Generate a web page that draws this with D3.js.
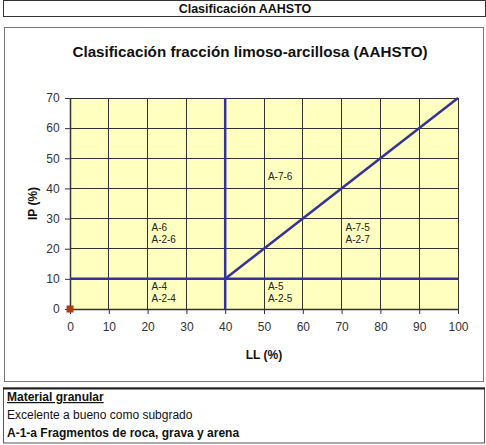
<!DOCTYPE html>
<html><head><meta charset="utf-8">
<script src="https://cdn.jsdelivr.net/npm/d3@7"></script>
<style>
html,body{margin:0;padding:0;background:#fff;}
svg{display:block;font-family:"Liberation Sans",Arial,sans-serif;}
</style></head>
<body>
<svg id="c" width="486" height="445"></svg>
<script>
const headerText = "Clasificación AAHSTO";
const chartTitle = "Clasificación fracción limoso-arcillosa (AAHSTO)";
const xLabel = "LL (%)";
const yLabel = "IP (%)";
const xTicks = [0,10,20,30,40,50,60,70,80,90,100];
const yTicks = [0,10,20,30,40,50,60,70];
// boundary lines (LL, IP)
const lineVertical = [[40,0],[40,70]];
const lineHorizontal = [[0,10],[100,10]];
const lineDiagonal = [[40,10],[100,70]];
const samplePoints = [[0,0]];
const zoneLabels = [
  {x:51, y:44.1, lines:["A-7-6"]},
  {x:21, y:26.9, lines:["A-6","A-2-6"]},
  {x:71, y:26.9, lines:["A-7-5","A-2-7"]},
  {x:21, y:7.3, lines:["A-4","A-2-4"]},
  {x:51, y:7.3, lines:["A-5","A-2-5"]}
];
const footerLines = [
  {text:"Material granular", bold:true, underline:true},
  {text:"Excelente a bueno como subgrado", bold:false, underline:false},
  {text:"A-1-a Fragmentos de roca, grava y arena", bold:true, underline:false}
];

const svg = d3.select("#c");
// header box
svg.append("rect").attr("x",3.5).attr("y",0.5).attr("width",482).attr("height",16)
  .attr("fill","#fff").attr("stroke","#333").attr("stroke-width",1);
svg.append("text").attr("x",245).attr("y",12.5).attr("text-anchor","middle")
  .attr("font-size",12.5).attr("font-weight","bold").attr("fill","#111").text(headerText);

// chart box
svg.append("rect").attr("x",4.5).attr("y",27.5).attr("width",479).attr("height",354)
  .attr("fill","#fff").attr("stroke","#777").attr("stroke-width",1);

svg.append("text").attr("x",250).attr("y",57).attr("text-anchor","middle")
  .attr("font-size",15.2).attr("font-weight","bold").attr("fill","#111").text(chartTitle);

const x = d3.scaleLinear().domain([0,100]).range([70,458]);
const y = d3.scaleLinear().domain([0,70]).range([309,98]);

svg.append("rect").attr("x",x(0)).attr("y",y(70)).attr("width",x(100)-x(0)).attr("height",y(0)-y(70))
  .attr("fill","#ffffc0");

// gridlines
const g = svg.append("g");
g.selectAll(".vg").data(xTicks.filter(d=>d>0)).join("line")
  .attr("x1",d=>x(d)).attr("x2",d=>x(d)).attr("y1",y(0)).attr("y2",y(70))
  .attr("stroke","#333").attr("stroke-width",1).attr("shape-rendering","crispEdges");
g.selectAll(".hg").data(yTicks.filter(d=>d>0)).join("line")
  .attr("x1",x(0)).attr("x2",x(100)).attr("y1",d=>y(d)).attr("y2",d=>y(d))
  .attr("stroke","#333").attr("stroke-width",1).attr("shape-rendering","crispEdges");

// axes
const xa = svg.append("g").attr("transform",`translate(0,${y(0)})`)
  .call(d3.axisBottom(x).tickValues(xTicks).tickSize(5).tickSizeOuter(0));
const ya = svg.append("g").attr("transform",`translate(${x(0)},0)`)
  .call(d3.axisLeft(y).tickValues(yTicks).tickSize(5).tickSizeOuter(0));
[xa,ya].forEach(a=>{
  a.select(".domain").attr("stroke","#333").attr("stroke-width",1.5);
  a.selectAll(".tick line").attr("stroke","#333");
  a.selectAll(".tick text").attr("font-size",12).attr("fill","#333")
    .attr("font-family","Liberation Sans, Arial, sans-serif");
});
xa.selectAll(".tick text").attr("dy","1.2em");
ya.selectAll(".tick text").attr("dx","-0.2em");

// zone lines
const line = d3.line().x(d=>x(d[0])).y(d=>y(d[1]));
[lineVertical,lineHorizontal,lineDiagonal].forEach(l=>{
  svg.append("path").attr("d",line(l)).attr("fill","none")
    .attr("stroke","#333399").attr("stroke-width",2.5);
});

// point
svg.selectAll(".pt").data(samplePoints).join("rect")
  .attr("x",d=>x(d[0])-3.5).attr("y",d=>y(d[1])-3.5).attr("width",7).attr("height",7)
  .attr("fill","#b03a10");

// zone labels
zoneLabels.forEach(z=>{
  const t = svg.append("text").attr("x",x(z.x)).attr("y",y(z.y))
    .attr("font-size",10).attr("fill","#222");
  z.lines.forEach((s,i)=>{
    t.append("tspan").attr("x",x(z.x)).attr("dy", i===0 ? "0.35em" : "1.2em").text(s);
  });
});

// axis titles
svg.append("text").attr("x",264).attr("y",359).attr("text-anchor","middle")
  .attr("font-size",12).attr("font-weight","bold").attr("fill","#111").text(xLabel);
svg.append("text").attr("transform",`translate(37,${(y(0)+y(70))/2}) rotate(-90)`)
  .attr("text-anchor","middle").attr("font-size",12).attr("font-weight","bold").attr("fill","#111").text(yLabel);

// footer box
svg.append("rect").attr("x",3.5).attr("y",388).attr("width",481).attr("height",55)
  .attr("fill","#fff").attr("stroke","#555").attr("stroke-width",1);
svg.append("line").attr("x1",3).attr("x2",485).attr("y1",388.5).attr("y2",388.5)
  .attr("stroke","#222").attr("stroke-width",2);
footerLines.forEach((f,i)=>{
  svg.append("text").attr("x",7).attr("y",401+i*18)
    .attr("font-size",12).attr("font-weight",f.bold?"bold":"normal")
    .attr("text-decoration",f.underline?"underline":"none")
    .attr("fill","#111").text(f.text);
});
</script>
</body></html>
